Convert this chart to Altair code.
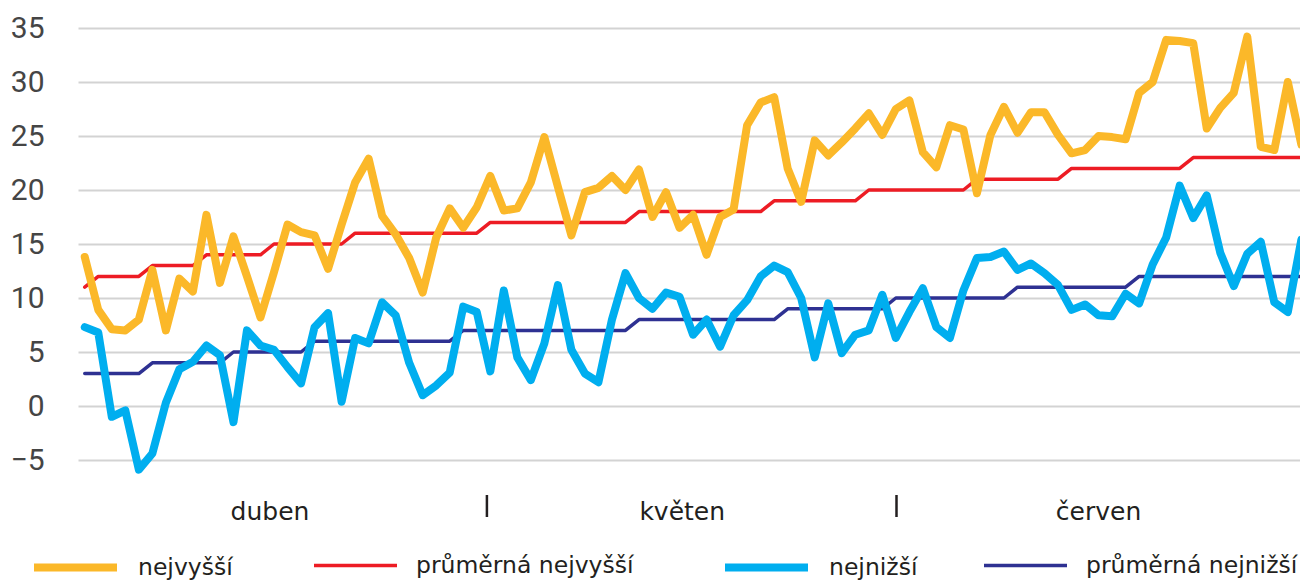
import altair as alt
import pandas as pd

# 1 April .. 30 June (91 days)
days = list(range(91))

nejvyssi = [13.8, 8.9, 7.1, 7.0, 8.0, 12.6, 7.0, 11.8, 10.6, 17.7,
            11.4, 15.7, 12.0, 8.2, 12.4, 16.8, 16.1, 15.8, 12.7, 16.8,
            20.7, 22.9, 17.6, 15.9, 13.7, 10.5, 15.6, 18.3, 16.5, 18.4,
            21.3, 18.1, 18.3, 20.7, 24.9, 20.3, 15.8, 19.8, 20.2, 21.3,
            20.0, 21.9, 17.5, 19.8, 16.5, 17.7, 14.0, 17.5, 18.2, 26.0,
            28.1, 28.6, 22.0, 18.9, 24.6, 23.2, 24.4, 25.7, 27.1, 25.1,
            27.5, 28.3, 23.5, 22.1, 26.0, 25.6, 19.7, 25.1, 27.7, 25.3,
            27.2, 27.2, 25.1, 23.4, 23.7, 25.0, 24.9, 24.7, 29.0, 30.0,
            33.9, 33.8, 33.6, 25.7, 27.6, 29.0, 34.2, 24.0, 23.7, 30.0,
            24.2]

prumerna_nejvyssi = [11, 12, 12, 12, 12, 13, 13, 13, 13, 14,
                     14, 14, 14, 14, 15, 15, 15, 15, 15, 15,
                     16, 16, 16, 16, 16, 16, 16, 16, 16, 16,
                     17, 17, 17, 17, 17, 17, 17, 17, 17, 17,
                     17, 18, 18, 18, 18, 18, 18, 18, 18, 18,
                     18, 19, 19, 19, 19, 19, 19, 19, 20, 20,
                     20, 20, 20, 20, 20, 20, 21, 21, 21, 21,
                     21, 21, 21, 22, 22, 22, 22, 22, 22, 22,
                     22, 22, 23, 23, 23, 23, 23, 23, 23, 23,
                     23]

nejnizsi = [7.3, 6.8, -1.0, -0.4, -5.9, -4.4, 0.3, 3.4, 4.1, 5.6,
            4.7, -1.5, 7.0, 5.6, 5.2, 3.6, 2.1, 7.3, 8.6, 0.4,
            6.3, 5.8, 9.6, 8.4, 4.0, 1.0, 1.9, 3.1, 9.2, 8.7,
            3.2, 10.7, 4.5, 2.4, 5.8, 11.2, 5.2, 3.0, 2.2, 8.0,
            12.3, 10.0, 9.0, 10.5, 10.1, 6.6, 8.0, 5.5, 8.4, 9.8,
            12.0, 13.0, 12.4, 10.0, 4.5, 9.5, 4.9, 6.6, 7.0, 10.3,
            6.3, 8.7, 10.9, 7.3, 6.3, 10.7, 13.7, 13.8, 14.3, 12.6,
            13.2, 12.3, 11.2, 8.9, 9.4, 8.4, 8.3, 10.4, 9.5, 13.1,
            15.6, 20.4, 17.4, 19.5, 14.2, 11.1, 14.1, 15.2, 9.6, 8.7,
            15.4]

prumerna_nejnizsi = [3, 3, 3, 3, 3, 4, 4, 4, 4, 4,
                     4, 5, 5, 5, 5, 5, 5, 6, 6, 6,
                     6, 6, 6, 6, 6, 6, 6, 6, 7, 7,
                     7, 7, 7, 7, 7, 7, 7, 7, 7, 7,
                     7, 8, 8, 8, 8, 8, 8, 8, 8, 8,
                     8, 8, 9, 9, 9, 9, 9, 9, 9, 9,
                     10, 10, 10, 10, 10, 10, 10, 10, 10, 11,
                     11, 11, 11, 11, 11, 11, 11, 11, 12, 12,
                     12, 12, 12, 12, 12, 12, 12, 12, 12, 12,
                     12]

series_names = ["nejvyšší", "průměrná nejvyšší", "nejnižší", "průměrná nejnižší"]
series_values = [nejvyssi, prumerna_nejvyssi, nejnizsi, prumerna_nejnizsi]
series_colors = ["#FBB829", "#ED1C24", "#00AEEF", "#2E3192"]
series_widths = [8, 3.5, 8, 3.5]
legend_x = [-48, 234, 643, 904]
draw_order = [1, 3, 0, 2]  # thin average lines below the thick daily lines

months = ["duben", "květen", "červen"]
month_centers = [13.7, 44.2, 75.0]
month_breaks = [29.75, 60.05]

y_ticks = [-5, 0, 5, 10, 15, 20, 25, 30, 35]

rows = []
for name, vals in zip(series_names, series_values):
    for d, v in zip(days, vals):
        rows.append({"den": d, "hodnota": v, "rada": name})
df = pd.DataFrame(rows)

month_df = pd.DataFrame({"pos": month_centers, "mesic": months})
break_df = pd.DataFrame({"pos": month_breaks})

x_scale = alt.Scale(domain=[-0.5, 89.9], nice=False, zero=False)
y_scale = alt.Scale(domain=[-10, 35], nice=False, zero=False)

x_enc = alt.X("den:Q", scale=x_scale, axis=None)
y_enc = alt.Y("hodnota:Q", scale=y_scale,
              axis=alt.Axis(values=y_ticks, title=None, domain=False, ticks=False,
                            grid=True, gridColor="#d3d3d3", gridWidth=2,
                            labelFont="Roboto", labelFontSize=30, labelColor="#454545",
                            labelPadding=34))

line_layers = []
for k in draw_order:
    name = series_names[k]
    lg = alt.Legend(
        title=None, orient="none", legendX=legend_x[k], legendY=494,
        symbolType="stroke", symbolSize=6889, symbolStrokeWidth=series_widths[k],
        labelFont="DejaVu Sans", labelFontSize=23.5, labelColor="#231f20",
        labelOffset=17, padding=0, labelLimit=400,
    )
    layer = alt.Chart(df).transform_filter(
        alt.datum.rada == name
    ).mark_line(strokeWidth=series_widths[k], strokeCap="round", strokeJoin="round").encode(
        x=x_enc, y=y_enc,
        color=alt.Color("rada:N", scale=alt.Scale(domain=[name], range=[series_colors[k]]),
                        legend=lg),
    )
    line_layers.append(layer)

month_labels = alt.Chart(month_df).mark_text(
    font="DejaVu Sans", fontSize=25, color="#231f20", align="center", baseline="alphabetic"
).encode(
    x=alt.X("pos:Q", scale=x_scale, axis=None),
    y=alt.value(492),
    text="mesic:N",
)

separators = alt.Chart(break_df).mark_rule(color="#231f20", strokeWidth=2.5).encode(
    x=alt.X("pos:Q", scale=x_scale, axis=None),
    y=alt.value(467),
    y2=alt.value(489),
)

chart = alt.layer(*line_layers, month_labels, separators).resolve_scale(
    color="independent"
).properties(
    width=1222, height=486,
    autosize=alt.AutoSizeParams(type="none"),
    padding={"left": 70, "top": 20, "right": 0, "bottom": 67},
).configure(
    background="white",
    view=alt.ViewConfig(stroke="transparent", strokeWidth=0),
)

chart.save("out.html", embed_options={"renderer": "svg", "actions": False})
